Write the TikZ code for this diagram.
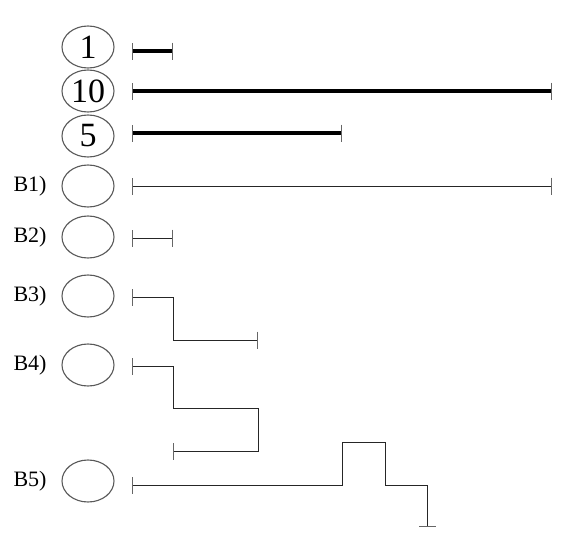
\documentclass[tikz,border=0pt]{standalone}
\usepackage{fontspec}
\setmainfont{Liberation Serif}
\usetikzlibrary{shapes.geometric,arrows.meta}
\begin{document}
\begin{tikzpicture}[x=1pt,y=-1pt,
  ell/.style={ellipse,draw=black!65,line width=1.1pt,minimum width=52pt,minimum height=42pt,inner sep=0pt,font=\fontsize{34}{34}\selectfont},
  lab/.style={font=\fontsize{22}{22}\selectfont,inner sep=0pt},
  thin/.style={draw=black!85,line width=1pt},
  thick/.style={draw=black,line width=3.6pt},
  mybar/.tip={Bar[width=17pt,line width=1pt,color=black!60]}]
\useasboundingbox (0,0) rectangle (571,557);
% top three
\node[ell] (n1) at (88,47) {1};
\node[ell] (n10) at (88,91) {10};
\node[ell] (n5) at (88,136) {5};
\coordinate (a1) at (132,51); \coordinate (b1) at (173,51);
\coordinate (a10) at (132,91); \coordinate (b10) at (552,91);
\coordinate (a5) at (132,133); \coordinate (b5) at (342,133);
\draw[thick,mybar-mybar] (a1) -- (b1);
\draw[thick,mybar-mybar] (a10) -- (b10);
\draw[thick,mybar-mybar] (a5) -- (b5);
% B rows
\node[lab] (l1) at (30,186) {B1)};
\node[lab] (l2) at (30,237) {B2)};
\node[lab] (l3) at (30,296) {B3)};
\node[lab] (l4) at (30,365) {B4)};
\node[lab] (l5) at (30,481) {B5)};
\node[ell] (e1) at (88,186) {};
\node[ell] (e2) at (88,237) {};
\node[ell] (e3) at (88,296) {};
\node[ell] (e4) at (88,365) {};
\node[ell] (e5) at (88,481) {};
% B1
\coordinate (p1a) at (132,186); \coordinate (p1b) at (552,186);
\draw[thin,mybar-mybar] (p1a) -- (p1b);
% B2
\coordinate (p2a) at (132,238); \coordinate (p2b) at (173,238);
\draw[thin,mybar-mybar] (p2a) -- (p2b);
% B3
\coordinate (p3a) at (132,297); \coordinate (p3b) at (258,340);
\draw[thin,mybar-mybar] (p3a) -- (173,297) -- (173,340) -- (p3b);
% B4
\coordinate (p4a) at (132,366); \coordinate (p4b) at (173,451);
\draw[thin,mybar-mybar] (p4a) -- (173,366) -- (173,408) -- (258,408) -- (258,451) -- (p4b);
% B5
\coordinate (p5a) at (132,485); \coordinate (p5b) at (427,527);
\draw[thin,mybar-mybar] (p5a) -- (342,485) -- (342,442) -- (385,442) -- (385,485) -- (427,485) -- (p5b);
\end{tikzpicture}
\end{document}
